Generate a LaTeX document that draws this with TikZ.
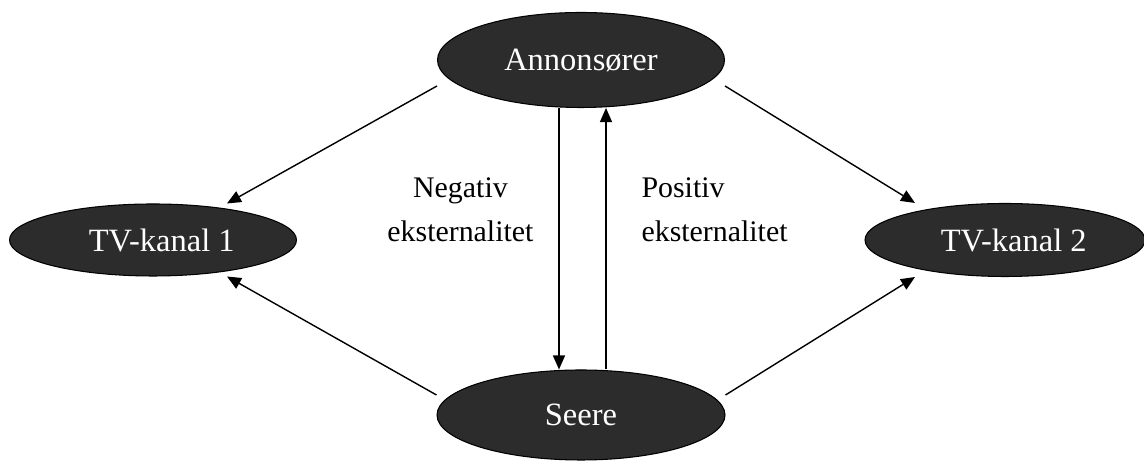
\documentclass[tikz,border=0pt]{standalone}
\usepackage{fontspec}
\setmainfont{Liberation Serif}
\usetikzlibrary{arrows.meta,positioning,shapes.geometric}
\definecolor{darkfill}{RGB}{44,44,44}

\begin{document}
\begin{tikzpicture}[
  actor/.style={ellipse,draw=black,line width=0.6pt,fill=darkfill,text=white,inner sep=0pt,
    font=\fontsize{18.5}{22}\selectfont},
  extlabel/.style={font=\fontsize{17}{25}\selectfont},
  flow/.style={-{Triangle[length=0.28cm,width=0.24cm]},line width=0.8pt}]
\useasboundingbox (0,0) rectangle (22.88,9.22);
\node[actor,minimum width=5.74cm,minimum height=1.9cm] (ann) at (11.62,8.02) {Annonsører};
\node[actor,minimum width=5.74cm,minimum height=1.44cm] (tv1) at (3.06,4.42) {\hspace*{0.35cm}TV-kanal 1};
\node[actor,minimum width=5.6cm,minimum height=1.46cm] (tv2) at (20.1,4.42) {\hspace*{0.35cm}TV-kanal 2};
\node[actor,minimum width=5.76cm,minimum height=1.8cm] (seere) at (11.62,0.92) {Seere};
% from advertisers to the channels
\draw[flow] ([yshift=-0.52cm]ann.west) -- ([xshift=1.48cm]tv1.north);
\draw[flow] ([yshift=-0.52cm]ann.east) -- ([xshift=-1.8cm]tv2.north);
% from viewers to the channels
\draw[flow] ([yshift=0.4cm]seere.west) -- ([xshift=1.48cm]tv1.south);
\draw[flow] ([yshift=0.4cm]seere.east) -- ([xshift=-1.8cm]tv2.south);
% externalities
\draw[flow] ([xshift=-0.44cm]ann.south) -- node[extlabel,pos=0.39,left=0.38cm,align=center] (neg) {Negativ\\eksternalitet} ([xshift=-0.44cm]seere.north);
\draw[flow] ([xshift=0.5cm]seere.north) -- node[extlabel,pos=0.61,right=0.58cm,align=left] (pos) {Positiv\\eksternalitet} ([xshift=0.5cm]ann.south);
\end{tikzpicture}
\end{document}
